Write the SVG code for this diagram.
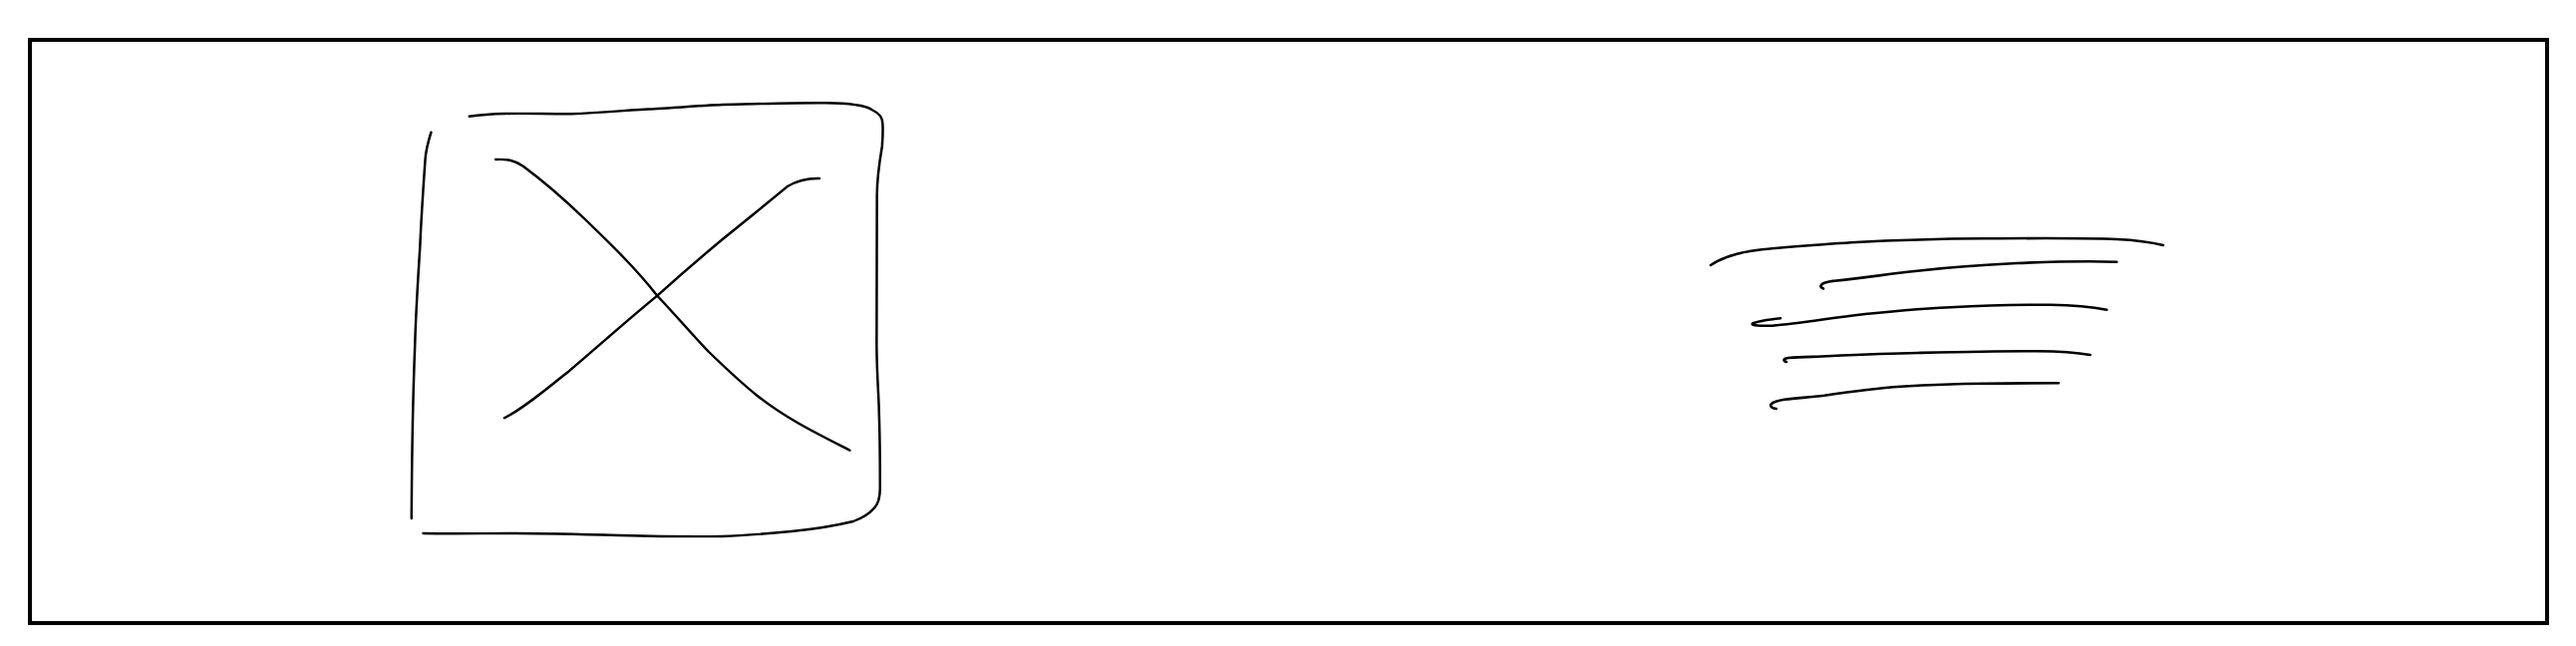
<svg xmlns="http://www.w3.org/2000/svg" width="2584" height="648" viewBox="0 0 2584 648">
<style>
.frame{fill:#ffffff;stroke:#000000;stroke-width:4}
.sk{fill:none;stroke:#000000;stroke-width:2.4;stroke-linecap:round;stroke-linejoin:round}
.tx{fill:none;stroke:#000000;stroke-width:2.6;stroke-linecap:round;stroke-linejoin:round}
</style>
<rect width="2584" height="648" fill="#ffffff"/>
<g id="frame">
<rect class="frame" x="30" y="40" width="2525" height="585"/>
</g>
<g id="image-placeholder" transform="matrix(1.0345 0 0 1 -13.11 0)">
<path class="sk" d="M467.7,116.7 C500,112 530,114.5 566.7,114.3 C600,113 625,110 646.7,109.3 C680,107 700,105.5 713,105 C750,104 790,103 813.3,103.3 C835,103.5 852,106 858,110 C866,114 868.5,118 868.5,124 C869,132 868.5,140 868,146.7 C865,165 863,180 863,196.7 L862.7,346.7 C863,380 865,400 865,413 C866,440 866,470 866,490 C866,500 864,506 860,510 C855,516 848,520 840,523 C820,528 800,531 780,533 C750,536 730,537.5 713,538 C680,538.5 650,538 613,537 C580,536 540,535 513,535 C480,535 450,535.5 423,535"/>
<path class="sk" d="M430.7,132.7 C427,145 425.5,152 425,160 C423,190 421,220 420,246.7 C418,280 416,310 415,346.7 C413,400 412,460 411.7,520"/>
<path class="sk" d="M493.3,160 C505,159.5 512,161 520,166.7 C540,182 560,200 580,220 C605,245 630,270 650,296.7 C667,315 685,337 700,353 C715,368 730,383 746.7,396.7 C775,420 805,435 836.7,451.7"/>
<path class="sk" d="M807.3,179 C795,178.5 786,181 776.7,186.7 C755,205 735,222 713.3,240 C690,260 670,278 650,296.7 C620,322 590,350 563.3,373.3 C540,392 520,410 501.7,419.3"/>
</g>
<g id="text-placeholder">
<path class="tx" d="M1716,266 C1728,258 1742,254 1756.7,251.7 C1790,247 1820,246 1856.7,243.3 C1900,241 1950,239.5 1990,239.3 C2040,239 2090,238.5 2123.3,240 C2145,241 2158,243 2170,246"/>
<path class="tx" d="M1829,289.5 C1825,288 1826,285 1831,283.5 C1836,282 1838,282 1840,281.7 C1870,279 1895,274.5 1923.3,271.7 C1960,267.5 1990,265.5 2023.3,264 C2060,262.5 2100,262 2123.3,262.7"/>
<path class="tx" d="M1786,319.3 C1775,320.5 1762,322.5 1758,324.5 C1756,326.5 1766,327 1776.7,326.7 C1800,325 1830,320 1856.7,316.7 C1890,313 1920,310 1956.7,308.3 C1990,306.5 2020,305.5 2056.7,305.7 C2085,306 2100,308 2113.3,310.7"/>
<path class="tx" d="M1792,363 C1788,362 1789,359.5 1794,359 C1805,358 1812,358 1823.3,357.7 C1860,356 1890,354.5 1923.3,354 C1965,353 2005,352 2043.3,352.3 C2070,352.5 2085,354 2096.7,356"/>
<path class="tx" d="M1781.7,410 C1777,409.5 1775,407 1777,405 C1780,402.5 1785,401.5 1790,400.7 C1805,399 1815,398.5 1830,396.7 C1855,393 1880,389.5 1906.7,387.7 C1935,386 1960,385 1990,384.7 C2020,384.3 2045,384.3 2065,384.3"/>
</g>
</svg>
